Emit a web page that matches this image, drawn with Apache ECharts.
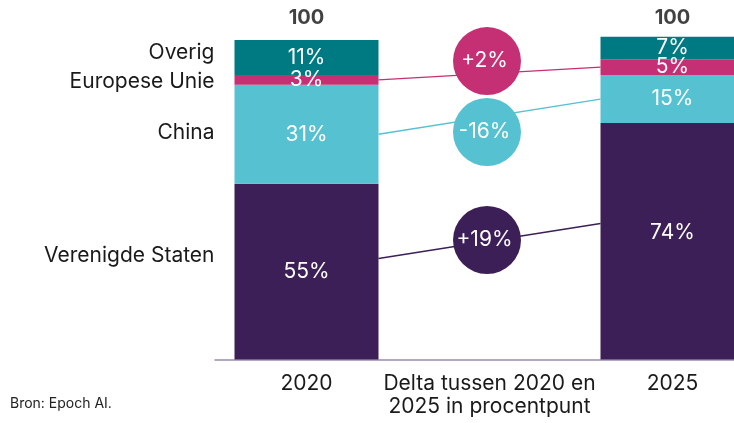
<!DOCTYPE html>
<html>
<head>
<meta charset="utf-8">
<script src="https://cdn.jsdelivr.net/npm/echarts@6/dist/echarts.min.js"></script>
<style>
  html, body { margin: 0; padding: 0; background: #ffffff; }
  #chart { width: 734px; height: 423px; }
</style>
</head>
<body>
<div id="chart"></div>
<script>
// Stacked shares (percent), bottom segment first
const regions = ['Verenigde Staten', 'China', 'Europese Unie', 'Overig'];
const share2020 = [55, 31, 3, 11];
const share2025 = [74, 15, 5, 7];
const totals = [100, 100];
const categories = ['2020', 'Delta tussen 2020 en\n2025 in procentpunt', '2025'];
const source = 'Bron: Epoch AI.';

// Regions that get a delta bubble and a connecting line
const deltaRegions = [0, 1, 2];

// ---- layout / style ----
const colors = ['#3c1f56', '#56c1d0', '#c52f73', '#007a82'];
const FONT = 'Inter, "Noto Sans", sans-serif';
const BAR_W = 144;
const anchorFrac = [0.575, 0.5, 0.5, 0.5];   // where along a segment the link attaches
const bubbleLevel = [37.4, 71.2, 93.4];       // vertical level of each bubble (value units)
const regionLabelNudge = [-2.5, -2, 2, -5];    // px tweak of the left-hand names
const valueLabelNudge2025 = [-9, 0, 0, 0];

function anchor(shares, i) {
  let base = 0;
  for (let k = 0; k < i; k++) base += shares[k];
  return base + shares[i] * anchorFrac[i];
}

const fmtPct = v => v + '%';
const fmtDelta = v => (v > 0 ? '+' : '') + v + '%';

const barSeries = regions.map((name, i) => ({
  name: name,
  type: 'bar',
  stack: 'share',
  barWidth: BAR_W,
  z: 2,
  itemStyle: { color: colors[i] },
  label: {
    show: true,
    position: 'inside',
    color: '#ffffff',
    fontFamily: FONT,
    fontSize: 21,
    formatter: p => fmtPct(p.value)
  },
  data: [
    share2020[i],
    '-',
    { value: share2025[i], label: { offset: [0, valueLabelNudge2025[i]] } }
  ]
}));

const linkData = deltaRegions.map(r => [0, anchor(share2020, r), anchor(share2025, r), r]);
const nameData = regions.map((n, r) => [0, anchor(share2020, r), r]);
const bubbleData = deltaRegions.map((r, k) => ({
  value: [1, bubbleLevel[k]],
  delta: share2025[r] - share2020[r],
  itemStyle: { color: colors[r], opacity: 1 }
}));

const chart = echarts.init(document.getElementById('chart'), null, { renderer: 'canvas' });
chart.setOption({
  animation: false,
  backgroundColor: '#ffffff',
  title: {
    text: source,
    left: 10,
    top: 397,
    padding: 0,
    textStyle: { fontFamily: FONT, fontSize: 14, fontWeight: 'normal', color: '#222222' }
  },
  grid: { left: 215, top: 8, width: 549, height: 351.5, outerBoundsMode: 'none', containLabel: false },
  xAxis: {
    type: 'category',
    data: categories,
    axisTick: { show: false },
    axisLine: { lineStyle: { color: '#9a8aae', width: 1.5 } },
    axisLabel: {
      interval: 0,
      hideOverlap: false,
      margin: 13,
      color: '#1a1a1a',
      fontFamily: FONT,
      fontSize: 21,
      lineHeight: 23
    }
  },
  yAxis: {
    type: 'value',
    min: 0,
    max: 110,
    show: false,
    splitLine: { show: false }
  },
  series: barSeries.concat([
    {
      // links between the matching segments of both years
      type: 'custom',
      z: 3,
      silent: true,
      encode: { x: 0, y: 1 },
      renderItem: function (params, api) {
        const a = api.coord([0, api.value(1)]);
        const b = api.coord([2, api.value(2)]);
        const r = api.value(3);
        return {
          type: 'line',
          shape: { x1: a[0] + BAR_W / 2, y1: a[1], x2: b[0] - BAR_W / 2, y2: b[1] },
          style: { stroke: colors[r], lineWidth: 1.4 }
        };
      },
      data: linkData
    },
    {
      // region names to the left of the first bar
      type: 'custom',
      z: 3,
      silent: true,
      encode: { x: 0, y: 1 },
      renderItem: function (params, api) {
        const p = api.coord([0, api.value(1)]);
        const r = api.value(2);
        return {
          type: 'text',
          x: p[0] - BAR_W / 2 - 20,
          y: p[1] + regionLabelNudge[r],
          style: {
            text: regions[r],
            fill: '#1a1a1a',
            fontFamily: FONT,
            fontSize: 21,
            align: 'right',
            verticalAlign: 'middle'
          }
        };
      },
      data: nameData
    },
    {
      // delta bubbles
      type: 'scatter',
      z: 4,
      symbol: 'circle',
      symbolSize: 68,
      symbolOffset: [-2.5, 0],
      itemStyle: { opacity: 1 },
      label: {
        show: true,
        position: 'inside',
        offset: [-2.5, 0],
        color: '#ffffff',
        fontFamily: FONT,
        fontSize: 21,
        formatter: p => fmtDelta(p.data.delta)
      },
      data: bubbleData
    },
    {
      // column totals
      type: 'scatter',
      z: 4,
      symbolSize: 0,
      label: {
        show: true,
        position: 'top',
        distance: 12,
        color: '#111111',
        fontFamily: FONT,
        fontSize: 20,
        fontWeight: 'bold',
        formatter: p => String(p.value[1])
      },
      data: [[0, totals[0]], [2, totals[1]]]
    }
  ])
});
</script>
</body>
</html>
